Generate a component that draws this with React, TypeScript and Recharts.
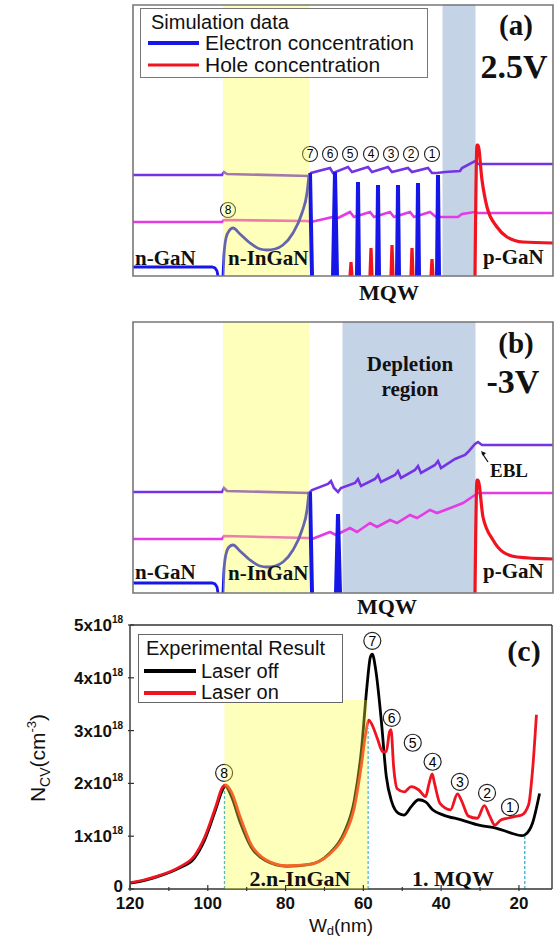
import React from 'react';
import { LineChart, Line, XAxis, YAxis, ReferenceArea, ReferenceDot, ReferenceLine, Legend } from 'recharts';

const SERIF = '"Liberation Serif", "Times New Roman", serif';
const SANS = '"Liberation Sans", Arial, sans-serif';

// ---------- Panel (a): simulation at 2.5 V (position a.u. / level a.u.) ----------
const A_CB = [[0,101],[89,101],[91,104],[94,102],[176,100],[178,103],[197,108],[200,103],[215,109],[219,104],[235,109],[239,104],[255,109],[259,104],[275,108],[279,104],[295,108],[299,103],[304,103],[312,104],[327,105],[329,108],[342,115],[345,112],[420,112]];
const A_VB = [[0,54],[89,54],[91,56],[174,55],[178,54],[200,59],[203,57],[217,64],[221,59],[237,64],[241,59],[257,64],[261,59],[277,64],[281,59],[297,64],[303,59],[325,59],[329,62],[342,64],[345,63],[420,63]];
const A_E_NGAN = [[0,9],[79,9],[82,8],[84,5],[85,0]];
const A_E_BUMP = [[90,0],[91,21],[93,38],[96,45],[100,48],[107,42],[117,33],[127,27],[134,26],[142,27],[150,31],[160,43],[169,63],[174,83],[176,101]];
const A_E_WELLS = [[177,103],[179,0],[190,null],[200,0],[202,104],[204,0],[214,null],[224,0],[225,94],[226,0],[234,null],[244,0],[245,91],[246,0],[254,null],[264,0],[265,91],[266,0],[274,null],[284,0],[285,93],[286,0],[294,null],[304,0],[305,101],[306,0]];
const A_H_WELLS = [[217,0],[218,14],[219,0],[228,null],[237,0],[238,28],[239,0],[248,null],[258,0],[259,31],[260,0],[268,null],[278,0],[279,28],[280,0],[288,null],[298,0],[299,17],[300,0]];
const A_H_PGAN = [[342,0],[344,131],[345,131],[349,96],[354,69],[364,49],[374,39],[390,34],[420,33]];
const A_MARKS = [['7',177,122],['6',197,122],['5',217,122],['4',238,122],['3',258,122],['2',278,122],['1',299,122],['8',95,66]];

// ---------- Panel (b): simulation at -3 V ----------
const B_CB = [[0,101],[89,101],[91,105],[94,102],[176,100],[179,103],[195,109],[198,112],[201,105],[205,101],[208,105],[222,110],[225,114],[228,107],[242,114],[245,118],[248,111],[262,118],[265,122],[268,115],[282,123],[285,127],[288,120],[302,128],[305,132],[308,125],[322,134],[332,138],[335,141],[342,149],[345,151],[349,148],[420,148]];
const B_VB = [[0,54],[89,54],[91,57],[176,55],[179,54],[197,61],[203,58],[217,65],[224,61],[237,70],[244,66],[257,73],[264,70],[277,78],[284,75],[297,83],[304,80],[320,86],[330,90],[342,98],[345,100],[420,100]];
const B_E_NGAN = [[0,10],[79,10],[82,9],[84,6],[85,0]];
const B_E_BUMP = [[90,0],[91,23],[93,39],[96,46],[100,48],[107,42],[117,33],[127,27],[134,26],[142,27],[150,31],[160,43],[169,63],[174,83],[176,101]];
const B_E_WELLS = [[177,101],[179,0],[190,null],[203,0],[205,79],[207,0]];
const B_H_PGAN = [[342,0],[344,113],[345,113],[350,76],[360,53],[370,41],[384,36],[420,34]];

const N_INGAN_SPAN = [90, 176];
const EBL_SPAN_A = [310, 342];
const DEPLETION_SPAN_B = [210, 342];

// ---------- Panel (c): experimental C-V profile (Wd nm, N_CV in 1e18 cm^-3) ----------
const C_OFF = [[120,0.11],[116,0.17],[112.7,0.24],[107.2,0.40],[103.5,0.58],[100.8,0.93],[98,1.5],[96.2,1.88],[95.5,1.95],[93.9,1.75],[91.6,1.25],[88.9,0.8],[85.2,0.54],[79.7,0.43],[74.2,0.46],[68.7,0.68],[65,1.06],[62.3,1.69],[60.5,2.63],[59.1,3.82],[58.2,4.39],[57.7,4.45],[56.8,4.14],[55.4,3.2],[54.1,2.13],[52.7,1.65],[50.9,1.43],[49.5,1.40],[47.7,1.56],[45.8,1.69],[44,1.65],[42.2,1.5],[39.4,1.4],[34.8,1.31],[30.3,1.21],[25.7,1.15],[22,1.06],[19.3,1.01],[18.4,1.03],[16.5,1.25],[14.7,1.81]];
const C_ON = [[120,0.12],[116,0.18],[112.7,0.25],[107.2,0.42],[103.5,0.62],[100.8,0.98],[98,1.55],[96.2,1.93],[95.5,1.97],[94,1.85],[91.6,1.35],[88.9,0.85],[85.2,0.56],[79.7,0.44],[74.2,0.46],[68.7,0.66],[65,1.0],[62.3,1.55],[60.5,2.35],[59.5,2.9],[58.6,3.2],[57.7,3.1],[56.4,2.85],[55,2.6],[54.1,2.6],[53.3,2.97],[52.9,3.02],[52.2,2.3],[51.3,1.9],[49.5,1.84],[47.7,1.94],[45.8,1.88],[44,1.75],[43.1,2.0],[42.3,2.18],[41.7,2.0],[40.3,1.62],[37.6,1.5],[35.8,1.8],[34.8,1.68],[33,1.38],[30.7,1.34],[28.9,1.58],[27.5,1.38],[26.2,1.21],[24.8,1.3],[23,1.34],[21.2,1.37],[19.3,1.4],[17.5,1.6],[16.5,2.25],[15.5,3.3]];
const C_MARKS = [['8',95.8,2.2],['7',57.7,4.7],['6',52.7,3.24],['5',47.3,2.77],['4',42.2,2.41],['3',35.2,2.03],['2',28.2,1.82],['1',22.3,1.55]];
const C_X_TICKS = [120,110,100,90,80,70,60,50,40,30,20];
const C_Y_TICKS = [0,1,2,3,4,5];
const C_INGAN = [58.8, 95.7];
const C_INGAN_TOP = 3.58;
const C_BOUNDARIES = [[95.7,1.9],[58.8,3.05],[18.5,1.02]];

const E18 = 1e18;
const pts = (a: any[]) => a.map(([x, y]) => ({ x, y }));
const pts18 = (a: any[]) => a.map(([x, y]) => ({ x, y: y * E18 }));

const BLUE = '#1616e8';
const RED = '#f01420';
const PURPLE = '#7434e6';
const MAGENTA = '#e43ce4';
const YELLOW = '#ffff3a';
const YELLOW_OP = 0.34;
const SLATE = '#c5d3e7';

const ln = (data: any, color: string, w: number, type: any = 'linear') => (
  <Line data={data} dataKey="y" type={type} stroke={color} strokeWidth={w} dot={false} activeDot={false} isAnimationActive={false} connectNulls={false} />
);

const rowStyle = { position: 'absolute' as const, whiteSpace: 'nowrap' as const, lineHeight: '20px', height: 20 };

const SimLegend = () => (
  <div style={{ width: 286, height: 68, border: '1px solid #777', background: '#fff', position: 'relative', fontFamily: SANS, fontSize: 20, color: '#111' }}>
    <div style={{ ...rowStyle, left: 10, top: 3 }}>Simulation data</div>
    <svg style={{ position: 'absolute', left: 0, top: 0 }} width={70} height={68}>
      <line x1={7} x2={58} y1={34} y2={34} stroke={BLUE} strokeWidth={4} />
      <line x1={7} x2={58} y1={56} y2={56} stroke={RED} strokeWidth={3} />
    </svg>
    <div style={{ ...rowStyle, left: 64, top: 24, fontSize: 21 }}>Electron concentration</div>
    <div style={{ ...rowStyle, left: 64, top: 46, fontSize: 21 }}>Hole concentration</div>
  </div>
);

const ExpLegend = () => (
  <div style={{ width: 203, height: 67, border: '1px solid #666', background: '#fff', position: 'relative', fontFamily: SANS, fontSize: 20, color: '#111' }}>
    <div style={{ ...rowStyle, left: 7, top: 3 }}>Experimental Result</div>
    <svg style={{ position: 'absolute', left: 0, top: 0 }} width={62} height={67}>
      <line x1={5} x2={57} y1={36} y2={36} stroke="#000" strokeWidth={4} />
      <line x1={5} x2={57} y1={58} y2={58} stroke={RED} strokeWidth={4} />
    </svg>
    <div style={{ ...rowStyle, left: 62, top: 26 }}>Laser off</div>
    <div style={{ ...rowStyle, left: 62, top: 47 }}>Laser on</div>
  </div>
);

const circleLabel = (v: string, fs: number) => ({ value: v, position: 'center' as const, fontSize: fs, fill: '#000', fontFamily: SANS });

const XTick = (props: any) => {
  const { x, y, payload } = props;
  const v = payload.value;
  const major = v % 20 === 0;
  return (
    <g>
      <line x1={x} x2={x} y1={y} y2={y - (major ? 6 : 4)} stroke="#333" strokeWidth={1.2} />
      {major && <text x={x} y={y + 18} textAnchor="middle" fontFamily={SANS} fontWeight="bold" fontSize={17} fill="#111">{v}</text>}
    </g>
  );
};

const YTick = (props: any) => {
  const { x, y, payload } = props;
  const v = Math.round(payload.value / E18);
  return (
    <g>
      <line x1={x} x2={x + 6} y1={y} y2={y} stroke="#333" strokeWidth={1.2} />
      <text x={x - 5} y={v === 0 ? y + 3 : y + 6} textAnchor="end" fontFamily={SANS} fontWeight="bold" fontSize={17} fill="#111">
        {v === 0 ? '0' : (<><tspan>{v}x10</tspan><tspan dy={-8} fontSize={10}>18</tspan></>)}
      </text>
    </g>
  );
};

const SimPanel = ({ cb, vb, eN, eBump, eWells, hWells, hP, band, marks, legend }: any) => (
  <LineChart width={422} height={273} margin={{ top: 1, right: 1, bottom: 1, left: 1 }}>
    <XAxis type="number" dataKey="x" domain={[0, 420]} hide allowDataOverflow />
    <YAxis type="number" domain={[0, 271]} hide allowDataOverflow />
    <ReferenceArea x1={band[0]} x2={band[1]} y1={0} y2={271} fill={SLATE} fillOpacity={1} stroke={SLATE} />
    {ln(pts(cb), PURPLE, 2.6)}
    {ln(pts(vb), MAGENTA, 2.6)}
    {ln(pts(eN), BLUE, 2.8)}
    {ln(pts(eBump), BLUE, 2.8, 'monotone')}
    {ln(pts(eWells), BLUE, 4)}
    {hWells && ln(pts(hWells), RED, 3.2)}
    {ln(pts(hP), RED, 3.2, 'monotone')}
    <ReferenceArea x1={N_INGAN_SPAN[0]} x2={N_INGAN_SPAN[1]} y1={0} y2={271} fill={YELLOW} fillOpacity={YELLOW_OP} stroke="none" zIndex={1000} />
    {marks && marks.map((m: any) => (
      <ReferenceDot key={m[0]} x={m[1]} y={m[2]} r={7.5} fill="none" stroke="#222" strokeWidth={1.1} label={circleLabel(m[0], 12)} />
    ))}
    <ReferenceArea x1={0} x2={420} y1={0} y2={271} fill="none" stroke="#777" strokeWidth={1.6} zIndex={1100} />
    {legend && <Legend layout="horizontal" align="center" verticalAlign="middle" content={() => <SimLegend />} wrapperStyle={{ left: 8, top: 4, width: 288, height: 70 }} />}
  </LineChart>
);

export default function App() {
  const T = { fontFamily: SERIF, fontWeight: 'bold' as const, fill: '#111' };
  return (
    <div style={{ position: 'absolute', left: 0, top: 0, width: 557, height: 938, background: '#fff', overflow: 'hidden' }}>
      <div style={{ position: 'absolute', left: 132, top: 4 }}>
        <SimPanel cb={A_CB} vb={A_VB} eN={A_E_NGAN} eBump={A_E_BUMP} eWells={A_E_WELLS} hWells={A_H_WELLS} hP={A_H_PGAN} band={EBL_SPAN_A} marks={A_MARKS} legend />
      </div>
      <div style={{ position: 'absolute', left: 132, top: 321 }}>
        <SimPanel cb={B_CB} vb={B_VB} eN={B_E_NGAN} eBump={B_E_BUMP} eWells={B_E_WELLS} hWells={null} hP={B_H_PGAN} band={DEPLETION_SPAN_B} marks={null} legend={false} />
      </div>
      <div style={{ position: 'absolute', left: 0, top: 600 }}>
        <LineChart width={557} height={338} margin={{ top: 25, right: 5, bottom: 19, left: 40 }}>
          <XAxis type="number" dataKey="x" domain={[11.5, 120]} reversed allowDataOverflow ticks={C_X_TICKS} interval={0} tickSize={0} tickLine={false} tick={<XTick />} height={30} stroke="#333" strokeWidth={1.4} />
          <YAxis type="number" domain={[0, 5 * E18]} allowDataOverflow ticks={C_Y_TICKS.map(v => v * E18)} interval={0} tickSize={0} tickLine={false} tick={<YTick />} width={90} stroke="#333" strokeWidth={1.4} />
          {C_BOUNDARIES.map(([x, y]) => (
            <ReferenceLine key={x} segment={[{ x, y: 0 }, { x, y: y * E18 }]} stroke="#3aaed0" strokeWidth={1.3} strokeDasharray="3 2" />
          ))}
          {ln(pts18(C_OFF), '#000', 2.8, 'monotone')}
          {ln(pts18(C_ON), RED, 2.8, 'monotone')}
          <ReferenceArea x1={C_INGAN[1]} x2={C_INGAN[0]} y1={0} y2={C_INGAN_TOP * E18} fill={YELLOW} fillOpacity={YELLOW_OP} stroke="none" zIndex={1000} />
          {C_MARKS.map((m: any) => (
            <ReferenceDot key={m[0]} x={m[1]} y={m[2] * E18} r={8.5} fill="none" stroke="#222" strokeWidth={1.2} label={circleLabel(m[0], 14)} />
          ))}
          <ReferenceLine y={5 * E18} stroke="#333" strokeWidth={1.4} />
          <ReferenceLine x={11.5} stroke="#333" strokeWidth={1.4} />
          <Legend layout="horizontal" align="center" verticalAlign="middle" content={() => <ExpLegend />} wrapperStyle={{ left: 138, top: 34, width: 205, height: 69 }} />
        </LineChart>
      </div>
      <svg width={557} height={938} style={{ position: 'absolute', left: 0, top: 0, pointerEvents: 'none' }}>
        {/* panel (a) annotations */}
        <text x={516} y={35} textAnchor="middle" fontSize={29} {...T}>(a)</text>
        <text x={514} y={78} textAnchor="middle" fontSize={34} {...T}>2.5V</text>
        <text x={135} y={265} fontSize={21} {...T}>n-GaN</text>
        <text x={228} y={265} fontSize={21} {...T}>n-InGaN</text>
        <text x={483} y={264} fontSize={21} {...T}>p-GaN</text>
        <text x={389} y={300} textAnchor="middle" fontSize={22} {...T}>MQW</text>
        {/* panel (b) annotations */}
        <text x={516} y={353} textAnchor="middle" fontSize={29} {...T}>(b)</text>
        <text x={513} y={393} textAnchor="middle" fontSize={34} {...T}>-3V</text>
        <text x={410} y={371} textAnchor="middle" fontSize={21} {...T}>Depletion</text>
        <text x={410} y={396} textAnchor="middle" fontSize={21} {...T}>region</text>
        <line x1={488} y1={462} x2={482} y2={453} stroke="#111" strokeWidth={1.3} />
        <path d="M481,451 L486,453 L483,456 Z" fill="#111" />
        <text x={490} y={477} fontSize={19} {...T}>EBL</text>
        <text x={135} y={579} fontSize={21} {...T}>n-GaN</text>
        <text x={228} y={580} fontSize={21} {...T}>n-InGaN</text>
        <text x={483} y={578} fontSize={21} {...T}>p-GaN</text>
        <text x={387} y={614} textAnchor="middle" fontSize={22} {...T}>MQW</text>
        {/* panel (c) annotations */}
        <text x={524} y={661} textAnchor="middle" fontSize={30} {...T}>(c)</text>
        <text x={300} y={886} textAnchor="middle" fontSize={22} {...T}>2.n-InGaN</text>
        <text x={453} y={886} textAnchor="middle" fontSize={22} {...T}>1. MQW</text>
        <text transform="translate(45,758) rotate(-90)" textAnchor="middle" fontFamily={SANS} fontSize={21} fill="#111">
          <tspan>N</tspan><tspan dy={5} fontSize={14}>CV</tspan><tspan dy={-5}>(cm</tspan><tspan dy={-9} fontSize={13}>-3</tspan><tspan dy={9}>)</tspan>
        </text>
        <text x={341} y={932} textAnchor="middle" fontFamily={SANS} fontSize={19} fill="#111">
          <tspan>W</tspan><tspan dy={3} fontSize={13}>d</tspan><tspan dy={-3}>(nm)</tspan>
        </text>
      </svg>
    </div>
  );
}
